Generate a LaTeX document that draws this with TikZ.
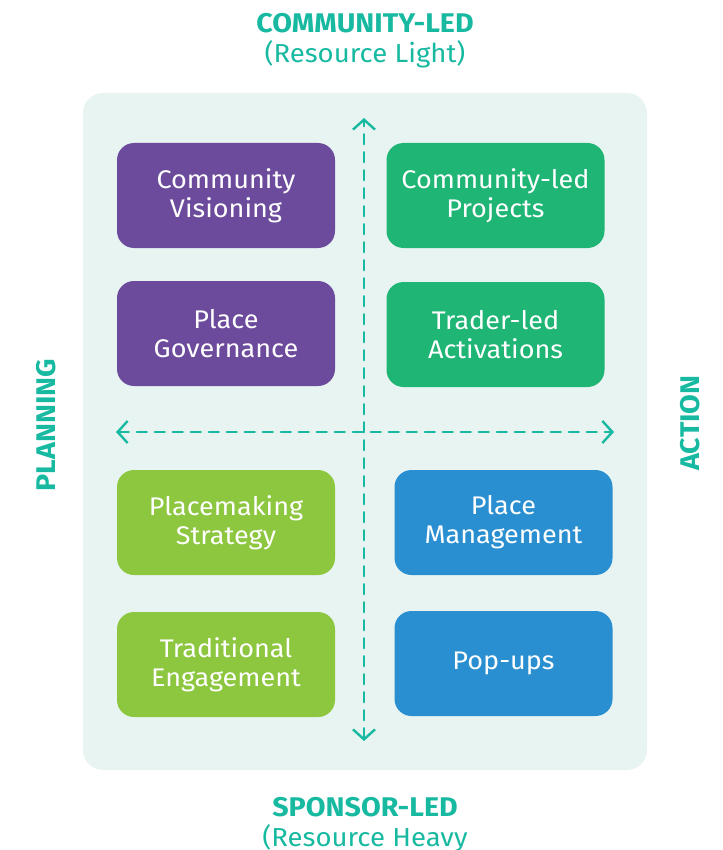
\documentclass[tikz,border=0pt]{standalone}
\usepackage{fontspec}
\setmainfont{Fira Sans}[FakeStretch=1.06]
\usetikzlibrary{arrows.meta}
\definecolor{panel}{HTML}{E8F4F2}
\definecolor{teal}{HTML}{17B9A1}
\definecolor{purp}{HTML}{6D4B9C}
\definecolor{grn}{HTML}{1EB575}
\definecolor{lime}{HTML}{8DC63F}
\definecolor{blu}{HTML}{2A8FD1}
\tikzset{
  box/.style={rounded corners=17pt, minimum width=218pt, minimum height=105pt, text=white,
    align=center, font=\fontsize{25.5}{29}\selectfont, inner sep=0pt},
  axis/.style={teal, line width=2.4pt, dash pattern=on 10pt off 8pt, line cap=round,
    {Straight Barb[length=10pt,width=22pt,line width=2.4pt]}-{Straight Barb[length=10pt,width=22pt,line width=2.4pt]}},
  ttl/.style={teal, font=\fontsize{27}{29}\selectfont\bfseries},
  sub/.style={teal, font=\fontsize{26}{29}\selectfont},
}
\begin{document}
\begin{tikzpicture}[x=1pt,y=-1pt]
\useasboundingbox (0,0) rectangle (722,850);
\fill[panel, rounded corners=20pt] (83,93) rectangle (647,770);
\node[box, fill=purp] (cv) at (226,195.5) {Community\\Visioning};
\node[box, fill=grn] (cp) at (495.5,195.5) {Community-led\\Projects};
\node[box, fill=purp] (pg) at (226,333.5) {Place\\Governance};
\node[box, fill=grn] (ta) at (495.5,334.5) {Trader-led\\Activations};
\node[box, fill=lime] (ps) at (226,522.5) {Placemaking\\Strategy};
\node[box, fill=blu] (pm) at (503.5,522.5) {Place\\Management};
\node[box, fill=lime] (te) at (226,664.5) {Traditional\\Engagement};
\node[box, fill=blu] (pu) at (503.5,663.5) {Pop-ups};
\coordinate (vt) at (364,118);
\coordinate (vb) at (364,741);
\coordinate (hl) at (116,432);
\coordinate (hr) at (614,432);
\draw[axis] (vb) -- (vt);
\draw[axis] (hl) -- (hr);
\node[ttl] (t1) at (365,23) {COMMUNITY-LED};
\node[sub] (t2) at (365,54) {(Resource Light)};
\node[ttl] (b1) at (365,807) {SPONSOR-LED};
\node[sub] (b2) at (365,838) {(Resource Heavy};
\node[ttl, rotate=90] (l) at (46,425) {PLANNING};
\node[ttl, rotate=90] (r) at (690,423) {ACTION};
\end{tikzpicture}
\end{document}
